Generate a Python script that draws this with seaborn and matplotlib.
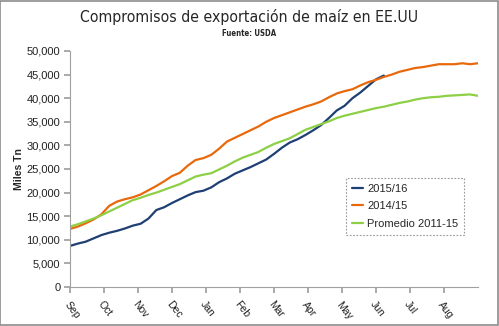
import matplotlib
matplotlib.use("Agg")
import matplotlib.pyplot as plt
import matplotlib.ticker as mticker
from matplotlib.patches import Rectangle
import numpy as np
import pandas as pd
import seaborn as sns

# Weekly cumulative export commitments (thousand tonnes), marketing year Sep-Aug
serie_2015_16 = [8.7, 9.2, 9.6, 10.3, 11.0, 11.5, 11.9, 12.4, 13.0, 13.4,
                 14.5, 16.3, 16.9, 17.8, 18.6, 19.4, 20.1, 20.4, 21.1, 22.2,
                 23.0, 24.0, 24.7, 25.4, 26.2, 27.0, 28.2, 29.5, 30.6, 31.3,
                 32.2, 33.2, 34.3, 35.8, 37.4, 38.4, 40.0, 41.2, 42.6, 44.0,
                 44.8]
serie_2014_15 = [12.3, 12.8, 13.5, 14.3, 15.4, 17.2, 18.1, 18.6, 19.0, 19.6,
                 20.5, 21.4, 22.4, 23.5, 24.2, 25.7, 26.9, 27.3, 28.0, 29.3,
                 30.8, 31.6, 32.4, 33.2, 34.0, 35.0, 35.8, 36.4, 37.0, 37.6,
                 38.2, 38.7, 39.3, 40.2, 41.0, 41.5, 41.9, 42.7, 43.4, 43.9,
                 44.5, 45.0, 45.6, 46.0, 46.4, 46.6, 46.9, 47.2, 47.2, 47.2,
                 47.4, 47.2, 47.4]
promedio_2011_15 = [12.8, 13.3, 13.9, 14.5, 15.2, 16.0, 16.8, 17.6, 18.4, 18.9,
                    19.5, 20.0, 20.6, 21.2, 21.8, 22.6, 23.4, 23.8, 24.1, 24.9,
                    25.7, 26.6, 27.4, 28.0, 28.6, 29.5, 30.3, 30.9, 31.5, 32.4,
                    33.3, 33.9, 34.5, 35.1, 35.8, 36.3, 36.7, 37.1, 37.5, 37.9,
                    38.2, 38.6, 39.0, 39.3, 39.7, 40.0, 40.2, 40.3, 40.5, 40.6,
                    40.7, 40.8, 40.5]
meses = ["Sep", "Oct", "Nov", "Dec", "Jan", "Feb", "Mar", "Apr", "May", "Jun",
         "Jul", "Aug"]
series = ["2015/16", "2014/15", "Promedio 2011-15"]
colores = ["#1F3F73", "#E8690C", "#8DCF45"]

frames = []
for nombre, vals in zip(series, [serie_2015_16, serie_2014_15, promedio_2011_15]):
    frames.append(pd.DataFrame({
        "semana": np.arange(len(vals)),
        "valor": np.array(vals) * 1000,
        "serie": nombre,
    }))
df = pd.concat(frames, ignore_index=True)

sns.set_theme(style="white")
plt.rcParams["font.family"] = ["Liberation Sans", "DejaVu Sans"]

fig = plt.figure(figsize=(4.99, 3.26), dpi=100)
ax = fig.add_axes([70 / 499, 1 - 287 / 326, 408 / 499, 236 / 326])

sns.lineplot(data=df, x="semana", y="valor", hue="serie", hue_order=series,
             palette=colores, linewidth=1.6, ax=ax, legend=True)

n_sem = 52
ax.set_xlim(0, n_sem)
ax.set_ylim(0, 50000)
ax.set_xticks(np.arange(12) * n_sem / 12)
ax.set_xticklabels(meses, rotation=-52, ha="left", va="top",
                   rotation_mode="anchor", fontsize=7.5, color="#222222")
ax.set_yticks(np.arange(0, 50001, 5000))
ax.yaxis.set_major_formatter(mticker.FuncFormatter(lambda v, p: f"{int(v):,}"))
ax.tick_params(axis="y", labelsize=8, colors="#222222", length=4,
               direction="out", color="#A0A0A0", left=True, pad=3)
ax.tick_params(axis="x", length=4, direction="out", color="#A0A0A0",
               bottom=True, pad=5)
for s in ["top", "right"]:
    ax.spines[s].set_visible(False)
for s in ["left", "bottom"]:
    ax.spines[s].set_color("#A0A0A0")
    ax.spines[s].set_linewidth(0.8)

ax.set_xlabel("")
ax.set_ylabel("Miles Tn", fontsize=7.5, fontweight="bold", labelpad=2)

leg = ax.legend(loc="upper left", bbox_to_anchor=(0.677, 0.462), fontsize=8,
                frameon=True, fancybox=False, handlelength=1.0,
                handletextpad=0.4, borderpad=0.5, labelspacing=0.7,
                borderaxespad=0)
frame = leg.get_frame()
frame.set_edgecolor("#7F7F7F")
frame.set_linestyle((0, (1.5, 1.5)))
frame.set_linewidth(0.8)

fig.text(0.5, 1 - 17 / 326, "Compromisos de exportación de maíz en EE.UU",
         ha="center", va="center", fontsize=11.3, fontstretch="condensed",
         family=["DejaVu Sans"])
fig.text(0.5, 1 - 34 / 326, "Fuente: USDA", ha="center", va="center",
         fontsize=5.6, fontweight="bold", fontstretch="condensed",
         family=["DejaVu Sans"])

fig.add_artist(Rectangle((0.001, 0.002), 0.997, 0.995, transform=fig.transFigure,
                         fill=False, edgecolor="#8C8C8C", linewidth=1.2))

fig.savefig("out.png", dpi=100)
